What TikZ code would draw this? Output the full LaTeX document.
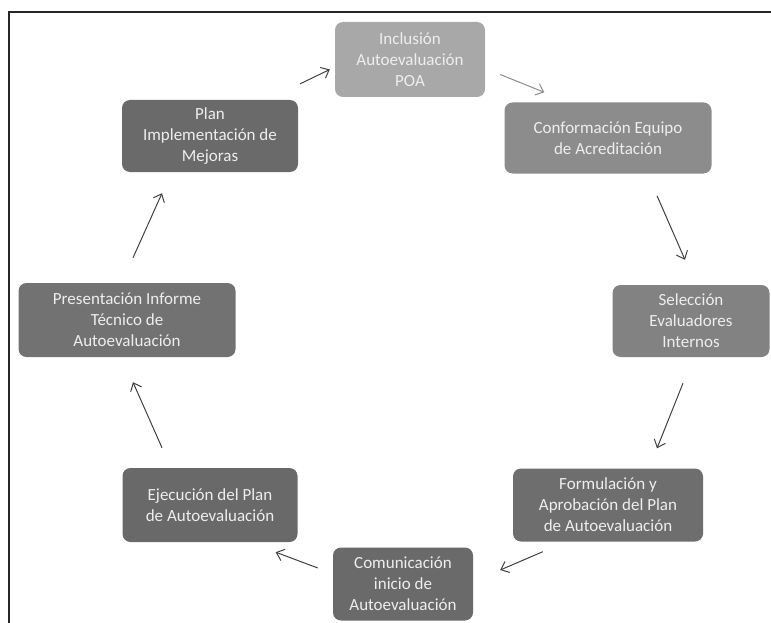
\documentclass[tikz,border=0pt]{standalone}
\usepackage{fontspec}
\setmainfont{Carlito}
\usepackage{xcolor}
\usepackage{tikz}
\usetikzlibrary{arrows.meta}
\definecolor{stageA}{HTML}{A8A8A8}
\definecolor{stageB}{HTML}{8C8C8C}
\definecolor{stageC}{HTML}{828282}
\definecolor{stageD}{HTML}{6E6E6E}
\definecolor{stageE}{HTML}{6A6A6A}
\definecolor{stageF}{HTML}{696969}
\definecolor{stageG}{HTML}{727272}
\definecolor{stageH}{HTML}{6A6A6A}
\definecolor{stagetext}{HTML}{EEEEEE}
\tikzset{%
  every stage/.style={
    rectangle,
    rounded corners=8pt,
    text=stagetext,
    align=center,
    inner sep=2pt,
    font=\fontsize{17pt}{21pt}\selectfont
  },
  cycle arrow/.style={
    draw=black!75,
    line width=1pt,
    -{Straight Barb[length=7pt,width=12pt]}
  },
}

\begin{document}
\begin{tikzpicture}[x=1pt, y=-1pt]

    \useasboundingbox (0,0) rectangle (771,623);

    % frame
    \draw [line width=2pt, black!85] (9,623) -- (9,12) -- (771,12);

    \node [every stage, fill=stageA, minimum width=150pt, minimum height=75pt] (incl) at (410,59.5)
        {Inclusión\\Autoevaluación\\POA};
    \node [every stage, fill=stageB, minimum width=207pt, minimum height=71pt] (conf) at (608,138)
        {Conformación Equipo\\de Acreditación};
    \node [every stage, fill=stageC, minimum width=157pt, minimum height=72pt] (sel) at (691,321)
        {Selección\\Evaluadores\\Internos};
    \node [every stage, fill=stageD, minimum width=190pt, minimum height=73pt] (form) at (608,505)
        {Formulación y\\Aprobación del Plan\\de Autoevaluación};
    \node [every stage, fill=stageE, minimum width=140pt, minimum height=73pt] (com) at (403,584)
        {Comunicación\\inicio de\\Autoevaluación};
    \node [every stage, fill=stageF, minimum width=175pt, minimum height=74pt] (ejec) at (210,505)
        {Ejecución del Plan\\de Autoevaluación};
    \node [every stage, fill=stageG, minimum width=217pt, minimum height=74pt] (pres) at (127,320)
        {Presentación Informe\\Técnico de\\Autoevaluación};
    \node [every stage, fill=stageH, minimum width=176pt, minimum height=72pt] (plan) at (210,136)
        {Plan\\Implementación de\\Mejoras};

    % arrows round the cycle
    \draw [cycle arrow] ([shift={(2,-16)}]plan.north east) -- ([shift={(-5,10)}]incl.west);
    \draw [cycle arrow, draw=black!45] ([shift={(15,15)}]incl.east) -- ([shift={(40,-10)}]conf.north west);
    \draw [cycle arrow] ([shift={(49,22)}]conf.south) -- ([shift={(-6,-25)}]sel.north);
    \draw [cycle arrow] ([shift={(-8,26)}]sel.south) -- ([shift={(49,-20)}]form.north);
    \draw [cycle arrow] ([shift={(30,10)}]form.south west) -- ([shift={(27,-14)}]com.east);
    \draw [cycle arrow] ([shift={(-15,-16)}]com.west) -- ([shift={(-22,10)}]ejec.south east);
    \draw [cycle arrow] ([shift={(-48,-20)}]ejec.north) -- ([shift={(6,25)}]pres.south);
    \draw [cycle arrow] ([shift={(6,-25)}]pres.north) -- ([shift={(-48,21)}]plan.south);

\end{tikzpicture}
\end{document}
